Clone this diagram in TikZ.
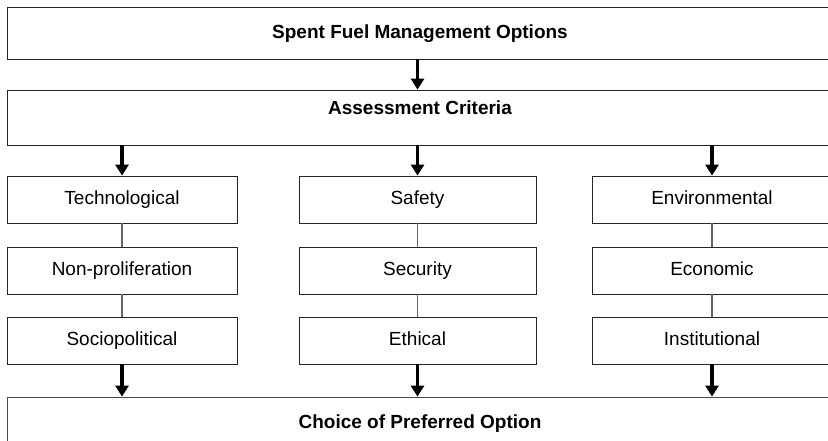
\documentclass[tikz,border=0pt]{standalone}
\usepackage{fontspec}
\setmainfont{Liberation Sans}
\usetikzlibrary{arrows.meta}

\tikzset{
	critbox/.style={draw=black!85, line width=0.8pt, inner sep=0pt,
		minimum height=47pt, text height=14pt, text depth=4pt,
		font=\fontsize{19}{22}\selectfont},
	headbox/.style={critbox, minimum width=826pt, font=\fontsize{19}{22}\selectfont\bfseries},
	flow/.style={line width=3.5pt, -{Triangle[width=13pt,length=11pt]}},
	tie/.style={draw=black!60, line width=1.2pt}
}

\begin{document}
\begin{tikzpicture}[x=1pt, y=1pt]
		\useasboundingbox (0,0) rectangle (828,-440);
		\node[headbox, minimum height=52pt] (options) at (420,-33) {Spent Fuel Management Options};
		\node[headbox, minimum height=55pt, text depth=21pt] (criteria) at (420,-117.5) {Assessment Criteria};
		\node[headbox, minimum height=53pt, draw=black!70] (choice) at (420,-423.5) {Choice of Preferred Option};
		\node[critbox, minimum width=230pt] (techno) at (122,-199.5) {Technological};
		\node[critbox, minimum width=230pt] (nonprolif) at (122,-270.5) {Non-proliferation};
		\node[critbox, minimum width=230pt] (sociopol) at (122,-340.5) {Sociopolitical};
		\node[critbox, minimum width=237pt] (safety) at (417.5,-199.5) {Safety};
		\node[critbox, minimum width=237pt] (security) at (417.5,-270.5) {Security};
		\node[critbox, minimum width=237pt] (ethical) at (417.5,-340.5) {Ethical};
		\node[critbox, minimum width=240pt] (environ) at (712,-199.5) {Environmental};
		\node[critbox, minimum width=240pt] (economic) at (712,-270.5) {Economic};
		\node[critbox, minimum width=240pt] (instit) at (712,-340.5) {Institutional};
		\draw[flow] (options.south -| safety.north) -- (criteria.north -| safety.north);
		\draw[flow] (criteria.south -| techno.north) -- (techno.north);
		\draw[flow] (criteria.south -| safety.north) -- (safety.north);
		\draw[flow] (criteria.south -| environ.north) -- (environ.north);
		\draw[tie] (techno.south) -- (nonprolif.north);
		\draw[tie] (nonprolif.south) -- (sociopol.north);
		\draw[tie] (safety.south) -- (security.north);
		\draw[tie] (security.south) -- (ethical.north);
		\draw[tie] (environ.south) -- (economic.north);
		\draw[tie] (economic.south) -- (instit.north);
		\draw[flow] (sociopol.south) -- (sociopol.south |- choice.north);
		\draw[flow] (ethical.south) -- (ethical.south |- choice.north);
		\draw[flow] (instit.south) -- (instit.south |- choice.north);
	\end{tikzpicture}
\end{document}
